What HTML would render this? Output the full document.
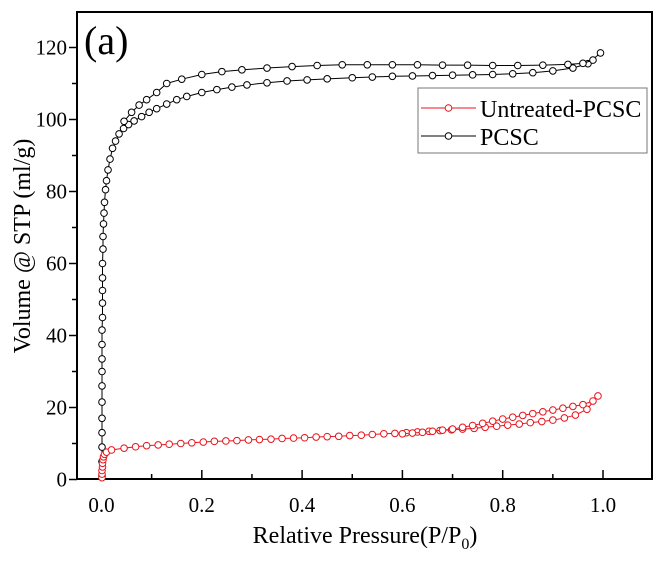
<!DOCTYPE html>
<html><head><meta charset="utf-8"><style>
html,body{margin:0;padding:0;background:#fff;}
svg text{font-family:"Liberation Serif",serif;}
</style></head><body>
<svg id="chart" width="664" height="556" viewBox="0 0 664 556" xmlns="http://www.w3.org/2000/svg">
<g id="plot"></g>
</svg>
<script>
const xTicks=[0.0,0.2,0.4,0.6,0.8,1.0];
const xTickLabels=["0.0","0.2","0.4","0.6","0.8","1.0"];
const yTicks=[0,20,40,60,80,100,120];
const yTickLabels=["0","20","40","60","80","100","120"];
const pcscAdsX=[0.001,0.001,0.001,0.001,0.001,0.001,0.001,0.001,0.001,0.001,0.001,0.002,0.002,0.002,0.002,0.002,0.003,0.003,0.004,0.005,0.006,0.008,0.01,0.013,0.017,0.022,0.028,0.035,0.044,0.054,0.065,0.08,0.095,0.11,0.13,0.15,0.17,0.2,0.23,0.26,0.29,0.33,0.37,0.41,0.45,0.5,0.54,0.58,0.62,0.66,0.7,0.74,0.78,0.82,0.86,0.9,0.94,0.97,0.995];
const pcscAdsY=[1,5,9,13,17,21.5,26,30,33.5,37.5,41.5,45,49,52.5,56,60,64,67.5,71,74,77,80.5,83,86,89,92,94,96,97.5,98.6,99.6,100.8,102,103,104.3,105.5,106.4,107.5,108.3,109,109.6,110.2,110.7,111,111.3,111.6,111.8,112,112.1,112.2,112.3,112.4,112.5,112.7,113,113.5,114.3,115.5,118.5];
const pcscDesX=[0.98,0.96,0.93,0.88,0.83,0.78,0.73,0.68,0.63,0.58,0.53,0.48,0.43,0.38,0.33,0.28,0.24,0.2,0.16,0.13,0.11,0.09,0.075,0.06,0.045];
const pcscDesY=[116.5,115.6,115.3,115.1,115.0,115.0,115.1,115.1,115.2,115.2,115.2,115.2,115.0,114.7,114.3,113.8,113.3,112.5,111.2,110,107.5,105.5,104,102,99.5];
const untrAdsX=[0.001,0.001,0.001,0.002,0.002,0.003,0.004,0.006,0.01,0.02,0.045,0.068,0.09,0.113,0.135,0.158,0.18,0.203,0.225,0.248,0.27,0.293,0.315,0.338,0.36,0.383,0.405,0.428,0.45,0.473,0.495,0.518,0.54,0.563,0.585,0.608,0.63,0.653,0.675,0.698,0.72,0.743,0.765,0.788,0.81,0.833,0.855,0.878,0.9,0.923,0.945,0.968,0.99];
const untrAdsY=[0.5,1.5,2.5,3.5,4.5,5.5,6.3,7,7.6,8.2,8.7,9.1,9.4,9.6,9.8,10.0,10.2,10.4,10.6,10.7,10.8,11.0,11.1,11.2,11.4,11.5,11.6,11.8,11.9,12.0,12.2,12.3,12.5,12.7,12.8,13.0,13.2,13.4,13.6,13.8,14.0,14.2,14.5,14.8,15.1,15.4,15.8,16.1,16.5,17.1,17.9,19.5,23.2];
const untrDesX=[0.98,0.96,0.94,0.92,0.9,0.88,0.86,0.84,0.82,0.8,0.78,0.76,0.74,0.72,0.7,0.68,0.66,0.64,0.62,0.6];
const untrDesY=[21.8,20.8,20.3,19.8,19.3,18.8,18.3,17.8,17.3,16.8,16.2,15.6,15.0,14.5,14.0,13.7,13.4,13.1,12.9,12.7];

const L=77,R=652,T=12,B=479;
const X0=101.5,XS=501.5, Y0=479.5, YS=3.6;
function sx(v){return X0+v*XS;}
function sy(v){return Y0-v*YS;}
const NS="http://www.w3.org/2000/svg";
const g=document.getElementById('plot');
function mk(tag,attrs,parent){const e=document.createElementNS(NS,tag);for(const k in attrs)e.setAttribute(k,attrs[k]);(parent||g).appendChild(e);return e;}

const frame=mk('rect',{x:L,y:T,width:R-L,height:B-T,fill:'none',stroke:'#000','stroke-width':2});



xTicks.forEach((v,i)=>{
  const t=mk('line',{x1:sx(v),x2:sx(v),y1:B,y2:B-9,stroke:'#000','stroke-width':1.5});
  
  
  if(i<xTicks.length-1){const m=mk('line',{x1:sx(v+0.1),x2:sx(v+0.1),y1:B,y2:B-5,stroke:'#000','stroke-width':1.5});
  
  }
  const lb=mk('text',{x:sx(v),y:B+33,'font-size':21,'text-anchor':'middle'});
  lb.textContent=xTickLabels[i];
  
  
});
yTicks.forEach((v,i)=>{
  const t=mk('line',{x1:L,x2:L-8,y1:sy(v),y2:sy(v),stroke:'#000','stroke-width':1.5});
  
  
  if(i<yTicks.length-1){const m=mk('line',{x1:L,x2:L-5,y1:sy(v+10),y2:sy(v+10),stroke:'#000','stroke-width':1.5});
  
  }
  const lb=mk('text',{x:L-10,y:sy(v)+7,'font-size':21,'text-anchor':'end'});
  lb.textContent=yTickLabels[i];
  
  
});

function series(xs,ys,color,name){
  const gg=mk('g',{});
  
  
  const pts=xs.map((x,i)=>sx(x)+','+sy(ys[i])).join(' ');
  mk('polyline',{points:pts,fill:'none',stroke:color,'stroke-width':1},gg);
  xs.forEach((x,i)=>{
    const c=mk('circle',{cx:sx(x),cy:sy(ys[i]),r:3.3,fill:'#fff',stroke:color,'stroke-width':1},gg);
    
    
  });
}
series(pcscAdsX,pcscAdsY,'#000','pcsc-adsorption');
series(pcscDesX,pcscDesY,'#000','pcsc-desorption');
series(untrAdsX,untrAdsY,'#e8141c','untreated-adsorption');
series(untrDesX,untrDesY,'#e8141c','untreated-desorption');

const lg=mk('g',{});


mk('rect',{x:418,y:88,width:229,height:65,fill:'#fff',stroke:'#777','stroke-width':1},lg);
[[ '#e8141c','Untreated-PCSC',108,'legend-entry-untreated'],['#000','PCSC',136,'legend-entry-pcsc']].forEach(e=>{
  const eg=mk('g',{},lg);
  
  
  mk('line',{x1:421,x2:476,y1:e[2],y2:e[2],stroke:e[0],'stroke-width':1},eg);
  mk('circle',{cx:448.5,cy:e[2],r:3.3,fill:'#fff',stroke:e[0],'stroke-width':1},eg);
  const t=mk('text',{x:480,y:e[2]+9,'font-size':24},eg);
  t.textContent=e[1];
});

const pl=mk('text',{x:84,y:54,'font-size':40});
pl.textContent='(a)';



const xt=mk('text',{x:365,y:543,'font-size':24,'text-anchor':'middle'});
xt.innerHTML='Relative Pressure(P/P<tspan font-size="16" dy="6">0</tspan><tspan dy="-6">)</tspan>';



const yt=mk('text',{x:0,y:0,'font-size':24,'text-anchor':'middle',transform:'translate(30,246) rotate(-90)'});
yt.textContent='Volume @ STP (ml/g)';


</script>
</body></html>
